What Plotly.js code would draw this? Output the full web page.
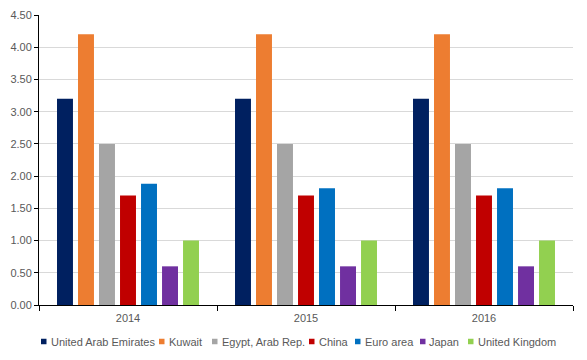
<!DOCTYPE html>
<html><head><meta charset="utf-8">
<script src="https://cdn.plot.ly/plotly-3.0.1.min.js"></script>
<style>html,body{margin:0;padding:0;background:#fff}#chart{width:587px;height:360px}</style>
</head><body><div id="chart"></div>
<script>
var years = ['2014', '2015', '2016'];
var seriesNames = ['United Arab Emirates', 'Kuwait', 'Egypt, Arab Rep.', 'China', 'Euro area', 'Japan', 'United Kingdom'];
var uae = [3.2, 3.2, 3.2];
var kuwait = [4.2, 4.2, 4.2];
var egypt = [2.5, 2.5, 2.5];
var china = [1.7, 1.7, 1.7];
var euroArea = [1.88, 1.81, 1.81];
var japan = [0.6, 0.6, 0.6];
var uk = [1.0, 1.0, 1.0];
var colors = ['#002060', '#ED7D31', '#A5A5A5', '#C00000', '#0070C0', '#7030A0', '#92D050'];
var values = [uae, kuwait, egypt, china, euroArea, japan, uk];

var W = 587, H = 360, M = {l: 39, r: 14, t: 15, b: 55};
var pw = W - M.l - M.r, ph = H - M.t - M.b;
function px(x) { return (x - M.l) / pw; }
function py(y) { return (H - M.b - y) / ph; }

var data = values.map(function (v, i) {
  return {type: 'bar', x: years, y: v, name: seriesNames[i], marker: {color: colors[i]}, hoverinfo: 'none'};
});
var font = {family: 'Liberation Sans, Arial, sans-serif', size: 11, color: '#595959'};

// custom legend (Excel-style compact legend)
var legendLeft = [41, 159, 212, 309, 355, 420, 468];
var legendY = 341.5, sq = 5.5;
var shapes = [], annotations = [];
seriesNames.forEach(function (n, i) {
  var x0 = legendLeft[i];
  shapes.push({type: 'rect', xref: 'paper', yref: 'paper', x0: px(x0), x1: px(x0 + sq),
    y0: py(legendY + sq / 2), y1: py(legendY - sq / 2), fillcolor: colors[i], line: {width: 0}});
  annotations.push({xref: 'paper', yref: 'paper', x: px(x0 + sq + 2), y: py(legendY), xanchor: 'left', yanchor: 'middle',
    text: n, showarrow: false, font: font});
});

var layout = {
  width: W, height: H,
  margin: M,
  barmode: 'group', bargap: 0.174, bargroupgap: 0.24,
  paper_bgcolor: '#fff', plot_bgcolor: '#fff',
  font: font,
  showlegend: false,
  shapes: shapes, annotations: annotations,
  xaxis: {type: 'category', showline: true, linecolor: '#000', linewidth: 1, ticks: 'outside', tickson: 'boundaries', ticklen: 5, tickcolor: '#000', showgrid: false, tickfont: font, zeroline: false, ticklabelstandoff: 3},
  yaxis: {range: [0, 4.5], dtick: 0.5, tickformat: '.2f', showline: true, linecolor: '#000', linewidth: 1, ticks: 'outside', ticklen: 4, tickcolor: '#000', gridcolor: '#D9D9D9', tickfont: font, zeroline: false}
};
Plotly.newPlot('chart', data, layout, {staticPlot: true});
</script></body></html>
